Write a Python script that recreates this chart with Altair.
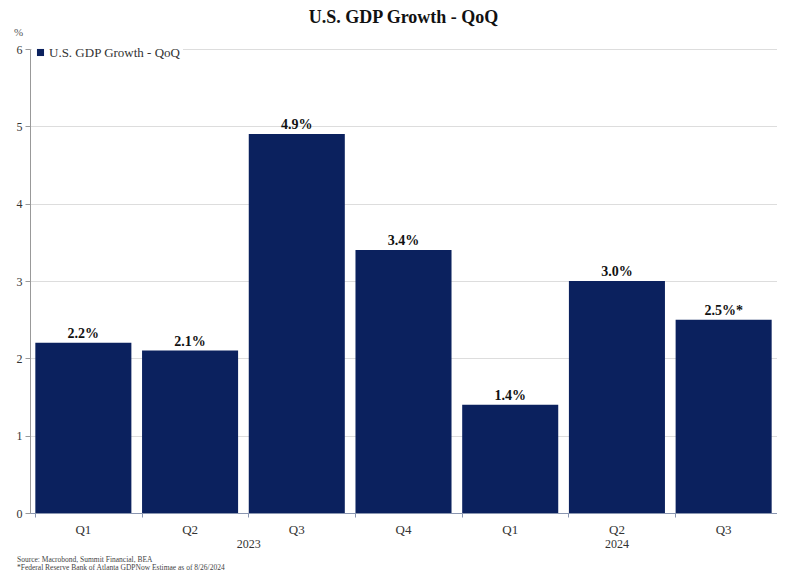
import altair as alt
import pandas as pd

keys = ["2023 Q1", "2023 Q2", "2023 Q3", "2023 Q4", "2024 Q1", "2024 Q2", "2024 Q3"]
values = [2.2, 2.1, 4.9, 3.4, 1.4, 3.0, 2.5]
labels = ["2.2%", "2.1%", "4.9%", "3.4%", "1.4%", "3.0%", "2.5%*"]
series_name = "U.S. GDP Growth - QoQ"
y_ticks = [0, 1, 2, 3, 4, 5, 6]

df = pd.DataFrame({"key": keys, "value": values, "label": labels,
                   "series": [series_name] * len(keys)})

W, H = 747, 464
NAVY = "#0b215e"
SERIF = "Liberation Serif"

xscale = alt.Scale(domain=keys, paddingInner=0.1, paddingOuter=0.05)
yscale = alt.Scale(domain=[0, 6], nice=False)

base = alt.Chart(df)

bars = base.mark_bar(color=NAVY).encode(
    x=alt.X("key:N", scale=xscale, sort=keys, title=None,
            axis=alt.Axis(labelExpr="split(datum.value, ' ')[1]", bandPosition=0,
                          labelFont=SERIF, labelFontSize=13, labelColor="#333333",
                          labelAngle=0, labelPadding=6, tickSize=4,
                          domainColor="#8a96b0", tickColor="#8a96b0", grid=False,
                          labelBound=False)),
    y=alt.Y("value:Q", scale=yscale, title=None,
            axis=alt.Axis(values=y_ticks, format="d", labelFont=SERIF, labelFontSize=12,
                          labelColor="#333333", tickSize=5, labelPadding=3,
                          domainColor="#999999", tickColor="#999999",
                          grid=True, gridColor="#dddddd")),
    color=alt.Color("series:N", scale=alt.Scale(range=[NAVY]),
                    legend=alt.Legend(title=None, orient="none", legendX=2, legendY=-5,
                                      symbolType="square", symbolSize=50,
                                      fillColor="white",
                                      padding=2, symbolOffset=0, labelOffset=2)),
)

text = base.mark_text(font=SERIF, fontSize=14, fontWeight="bold", dy=-9,
                      color="#111111").encode(
    x=alt.X("key:N", scale=xscale, sort=keys),
    y=alt.Y("value:Q", scale=yscale),
    text="label:N",
)

years_df = pd.DataFrame({"year": ["2023", "2024"], "anchor": ["2023 Q3", "2024 Q2"]})
y2023 = alt.Chart(years_df.iloc[[0]]).mark_text(font=SERIF, fontSize=12, color="#333333").encode(
    x=alt.X("anchor:N", scale=xscale, sort=keys, bandPosition=0),
    y=alt.value(H + 31),
    text="year:N",
)
y2024 = alt.Chart(years_df.iloc[[1]]).mark_text(font=SERIF, fontSize=12, color="#333333").encode(
    x=alt.X("anchor:N", scale=xscale, sort=keys, bandPosition=0.5),
    y=alt.value(H + 31),
    text="year:N",
)

unit_df = pd.DataFrame({"t": ["%"]})
unit = alt.Chart(unit_df).mark_text(font=SERIF, fontSize=11, color="#555555", align="left").encode(
    x=alt.value(-16), y=alt.value(-16), text="t:N")

notes_df = pd.DataFrame({"t": ["Source: Macrobond, Summit Financial, BEA",
                               "*Federal Reserve Bank of Atlanta GDPNow Estimae as of 8/26/2024"],
                         "yy": [H + 47, H + 55]})
notes = alt.Chart(notes_df).mark_text(font=SERIF, fontSize=7.5, color="#444444", align="left").encode(
    x=alt.value(-13), y=alt.Y("yy:Q", scale=None), text="t:N")

chart = alt.layer(bars, text, y2023, y2024, unit, notes).properties(
    width=W, height=H,
    title=alt.TitleParams(series_name, font=SERIF, fontSize=18, fontWeight="bold",
                          color="#111111", anchor="middle", offset=0),
    autosize=alt.AutoSizeParams(type="none"),
    padding={"left": 22, "top": 41, "right": 0, "bottom": 59},
).configure_view(stroke=None).configure(background="white").configure_legend(
    labelFont=SERIF, labelFontSize=13, labelColor="#333333"
)

chart.save("out.html", embed_options={"renderer": "svg", "actions": False})
